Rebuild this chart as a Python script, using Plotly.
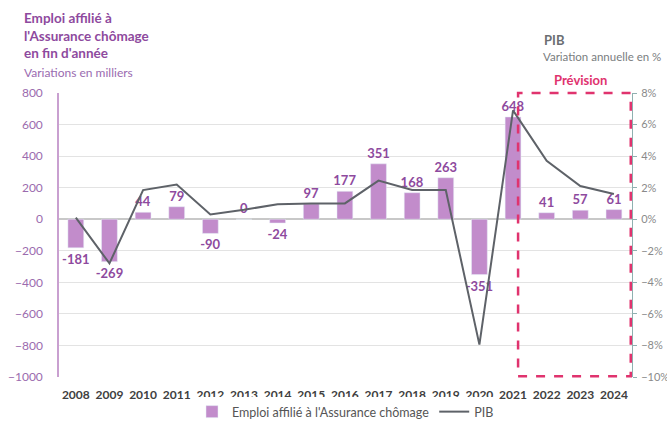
import plotly.graph_objects as go

years = [str(y) for y in range(2008, 2025)]
emploi = [-181, -269, 44, 79, -90, 0, -24, 97, 177, 351, 168, 263, -351, 648, 41, 57, 61]
pib = [0.1, -2.8, 1.85, 2.2, 0.3, 0.6, 0.95, 1.0, 1.0, 2.45, 1.85, 1.85, -7.95, 6.9, 3.7, 2.1, 1.6]

FONT = "Lato"
W, H = 667, 421
L, R, T, B = 59, 35, 93, 44
PW, PH = W - L - R, H - T - B

def px(x):
    return (x - L) / PW

def py(y):
    return (H - B - y) / PH

fig = go.Figure()
fig.add_trace(go.Bar(
    x=years, y=emploi, name="Emploi affilié à l'Assurance chômage",
    marker_color="#C28CCB", width=0.47,
    text=[str(v) for v in emploi], textposition="outside",
    constraintext="none", cliponaxis=False,
    textfont=dict(family=FONT, size=13, color="#8E4A9E", weight="bold"),
))
fig.add_trace(go.Scatter(
    x=years, y=pib, name="PIB", yaxis="y2", mode="lines",
    line=dict(color="#5E6268", width=2), cliponaxis=False,
))

fig.add_shape(type="rect", xref="x", yref="paper", x0=13.15, x1=16.5, y0=0.003, y1=1.0,
              line=dict(color="#E0336E", width=2.5, dash="dash"), fillcolor="rgba(0,0,0,0)")

ann = [
    dict(text="<b>Emploi affilié à<br>l'Assurance chômage<br>en fin d'année</b>", x=px(22), y=py(8),
         xanchor="left", yanchor="top", align="left", font=dict(size=13.5, color="#8E4A9E")),
    dict(text="Variations en milliers", x=px(22), y=py(72), xanchor="left", yanchor="middle",
         font=dict(size=12, color="#9A6BB0")),
    dict(text="<b>PIB</b>", x=px(542), y=py(40), xanchor="left", yanchor="middle",
         font=dict(size=13, color="#6B6E72")),
    dict(text="Variation annuelle en %", x=px(541), y=py(57), xanchor="left", yanchor="middle",
         font=dict(size=11.5, color="#7A7D80")),
    dict(text="<b>Prévision</b>", x=px(580), y=py(80), xanchor="center", yanchor="middle",
         font=dict(size=13, color="#E0336E")),
]
for a in ann:
    a.update(xref="paper", yref="paper", showarrow=False)
    a["font"]["family"] = FONT

fig.update_layout(
    width=W, height=H, margin=dict(l=L, r=R, t=T, b=B, autoexpand=False),
    paper_bgcolor="white", plot_bgcolor="white",
    font=dict(family=FONT, size=12, color="#555"),
    annotations=ann,
    bargap=0.5,
    xaxis=dict(type="category", tickfont=dict(size=12, color="#404040", weight="bold"),
               showgrid=False, ticks="", showline=False, ticklabelstandoff=9),
    yaxis=dict(range=[-1000, 800], dtick=200, gridcolor="#E3E3E3", zeroline=True,
               zerolinecolor="#C8C8C8", zerolinewidth=1.5,
               showline=True, linecolor="#C9A0D0", linewidth=1.5,
               tickfont=dict(size=12, color="#9B6BAE"), ticks="", ticklabelstandoff=12),
    yaxis2=dict(range=[-10, 8], dtick=2, overlaying="y", side="right", showgrid=False,
                zeroline=False, ticksuffix="%", showline=True, linecolor="#8FB0B0",
                ticks="outside", ticklen=4, tickcolor="#8FB0B0", ticklabelstandoff=2,
                tickfont=dict(size=11, color="#8A8A8A")),
    legend=dict(orientation="h", x=0.5, xanchor="center", y=py(412), yanchor="middle",
                font=dict(size=12.5, color="#555"), itemwidth=30, tracegroupgap=0),
    showlegend=True,
)

fig.write_html("out.html", config={"displayModeBar": False},
               post_script="document.body.style.margin='0';document.body.style.overflow='hidden';")
